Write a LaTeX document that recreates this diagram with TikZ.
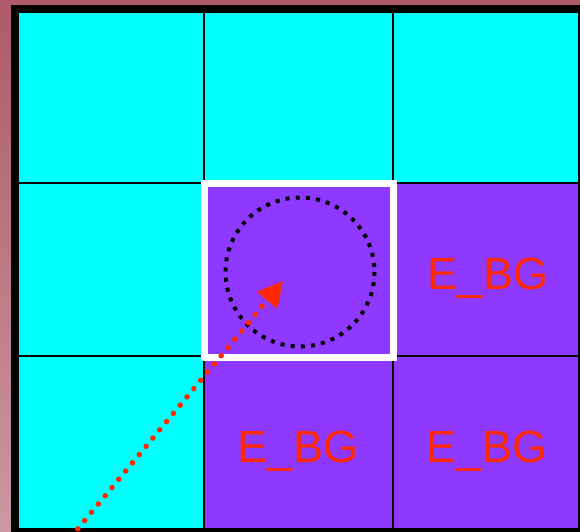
\documentclass[tikz,border=0pt]{standalone}
\usepackage{fontspec}
\newfontfamily\labelfont{Liberation Sans}
\usepackage{tikz}
\usetikzlibrary{arrows.meta,positioning}
\definecolor{bgtop}{RGB}{174,90,105}
\definecolor{bgbot}{RGB}{204,152,161}
\definecolor{cellcyan}{RGB}{0,255,255}
\definecolor{cellpurple}{RGB}{143,56,255}
\definecolor{ebgred}{RGB}{255,40,0}

\begin{document}
\begin{tikzpicture}[
    x=1pt, y=-1pt,
    ebg/.style={font=\labelfont\fontsize{45}{45}\selectfont, text=ebgred, anchor=base, inner sep=0pt},
    gridline/.style={black, line width=2pt},
    probe/.style={ebgred, line width=5.5pt, line cap=round, dash pattern=on 0.1pt off 10.6pt,
                  -{Triangle[length=25pt,width=25pt]}}
]
% canvas 580 x 531 px, y grows downwards
\useasboundingbox (0,0) rectangle (580,531);
\clip (0,0) rectangle (580,531);
\shade[top color=bgtop, bottom color=bgbot] (0,0) rectangle (580,531);

% outer black frame
\fill[black] (11,5) rectangle (584,535);

% cells: col/row -> colour
\foreach \xa/\xb [count=\i] in {19/204, 204/393, 393/579} {
  \foreach \ya/\yb [count=\j] in {13/183, 183/356, 356/529} {
    \pgfmathsetmacro\ispurple{(\i>1 && \j>1) ? 1 : 0}
    \ifnum\ispurple=1
      \fill[cellpurple] (\xa,\ya) rectangle (\xb,\yb);
    \else
      \fill[cellcyan] (\xa,\ya) rectangle (\xb,\yb);
    \fi
  }
}

% grid lines
\foreach \x in {204, 393, 579} \draw[gridline] (\x,13) -- (\x,531);
\foreach \y in {183, 356, 529} \draw[gridline] (19,\y) -- (580,\y);

% highlighted cell
\draw[white, line width=7pt] (204.5,183.5) rectangle (393,357);

% search circle
\coordinate (centre) at (300,272);
\draw[black, line width=4pt, dash pattern=on 4pt off 6.2pt] (centre) circle (74.5);

% labels
\node[ebg] (ebgright) at (488,289) {E\_BG};
\node[ebg] (ebgmid)   at (298,462) {E\_BG};
\node[ebg] (ebgcorner) at (487,462) {E\_BG};

% red dotted arrow towards the circle
\coordinate (start) at (71,537);
\coordinate (tip) at (283,281);
\draw[probe] (start) -- (tip);
\end{tikzpicture}
\end{document}
